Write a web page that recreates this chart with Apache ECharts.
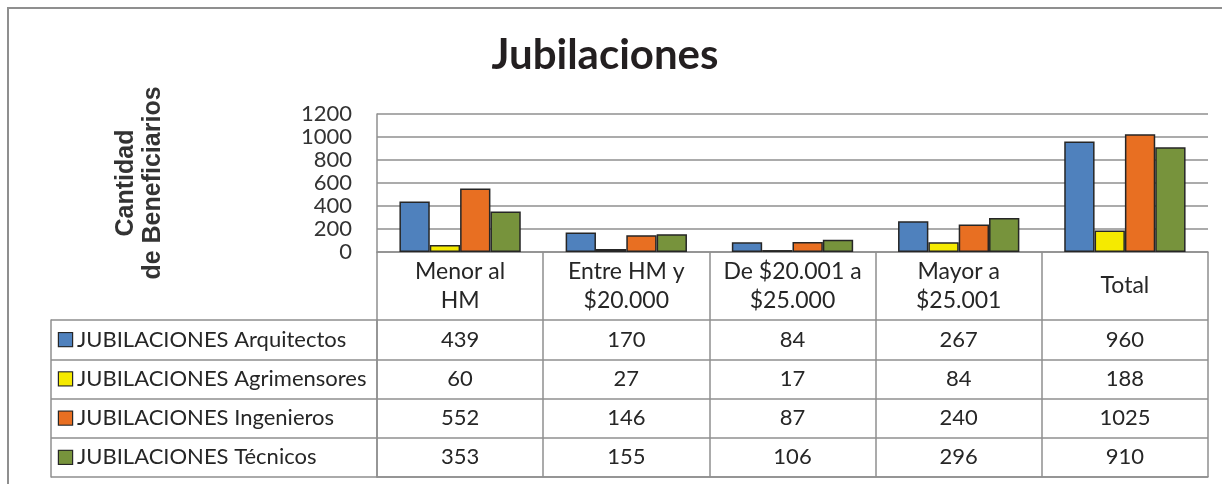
<!DOCTYPE html>
<html>
<head>
    <meta charset="utf-8">
    <title>Jubilaciones</title>
    <script src="https://cdn.jsdelivr.net/npm/echarts@6/dist/echarts.min.js"></script>
    <style>
        html, body { margin: 0; padding: 0; background: #fff; }
    </style>
</head>
<body>
<div id="main" style="width: 1222px;height:484px;"></div>
<script type="text/javascript">
    // datos
    var categorias = ['Menor al\nHM', 'Entre HM y\n$20.000', 'De $20.001 a\n$25.000', 'Mayor a\n$25.001', 'Total'];
    var nombres = ['JUBILACIONES Arquitectos', 'JUBILACIONES Agrimensores', 'JUBILACIONES Ingenieros', 'JUBILACIONES Técnicos'];
    var arquitectos = [439, 170, 84, 267, 960];
    var agrimensores = [60, 27, 17, 84, 188];
    var ingenieros = [552, 146, 87, 240, 1025];
    var tecnicos = [353, 155, 106, 296, 910];
    var yTicks = [0, 200, 400, 600, 800, 1000, 1200];
    var colores = ['#4f81bd', '#f5ea00', '#e86f22', '#77933c'];

    var valores = [arquitectos, agrimensores, ingenieros, tecnicos];
    var gris = '#8f8f8f';
    var texto = '#262626';
    var fuente = 'Lato';

    // celdas de la tabla: [columna, fila, valor]
    var celdas = [];
    valores.forEach(function (serie, fila) {
        serie.forEach(function (v, col) {
            celdas.push([col, fila, v]);
        });
    });

    var rich = {};
    colores.forEach(function (c, i) {
        rich['k' + i] = { width: 13, height: 13, backgroundColor: c, borderColor: '#262626', borderWidth: 1.2 };
    });
    rich.t = { fontFamily: fuente, fontSize: 22, color: texto, padding: [0, 0, 0, 5] };

    var myChart = echarts.init(document.getElementById('main'));

    var option = {
        animation: false,
        backgroundColor: '#fff',
        title: {
            text: 'Jubilaciones',
            left: 600,
            textAlign: 'center',
            top: 29,
            textStyle: { fontFamily: fuente, fontWeight: 'bold', fontSize: 42, color: '#231f20' }
        },
        graphic: [{
            type: 'rect',
            shape: { x: 8, y: 8, width: 1400, height: 700 },
            style: { fill: 'none', stroke: gris, lineWidth: 2 },
            silent: true
        }],
        grid: [
            { left: 377, right: 14, top: 114, height: 138 },
            { left: 377, right: 14, top: 320, height: 157 }
        ],
        xAxis: [{
            type: 'category',
            gridIndex: 0,
            data: categorias,
            axisLine: { show: true, lineStyle: { color: gris, width: 1.5 } },
            axisTick: { show: true, interval: 0, length: 68, lineStyle: { color: gris, width: 1.5 } },
            axisLabel: {
                interval: 0, margin: 34, verticalAlign: 'middle', lineHeight: 29,
                fontFamily: fuente, fontSize: 23, color: texto
            },
            splitLine: { show: false }
        }, {
            type: 'category',
            gridIndex: 1,
            data: categorias,
            axisLine: { show: true, lineStyle: { color: gris, width: 1.5 } },
            axisTick: { show: false },
            axisLabel: { show: false },
            splitLine: { show: true, interval: 0, lineStyle: { color: gris, width: 1.5 } }
        }],
        yAxis: [{
            type: 'value',
            gridIndex: 0,
            min: yTicks[0],
            max: yTicks[yTicks.length - 1],
            interval: 200,
            name: 'Cantidad\nde Beneficiarios',
            nameLocation: 'middle',
            nameRotate: 90,
            nameGap: 237,
            nameTextStyle: {
                fontFamily: 'Liberation Sans', fontWeight: 'bold', fontSize: 25,
                color: '#333', lineHeight: 27, align: 'center', verticalAlign: 'middle'
            },
            axisLine: { show: true, lineStyle: { color: gris, width: 1.5 } },
            axisTick: { show: false },
            axisLabel: {
                margin: 25, fontFamily: fuente, fontSize: 22, color: '#333',
                formatter: function (v) { return String(v); }
            },
            splitLine: { show: true, lineStyle: { color: gris, width: 1.5 } }
        }, {
            type: 'category',
            gridIndex: 1,
            inverse: true,
            data: nombres,
            axisLine: { show: true, lineStyle: { color: gris, width: 1.5 } },
            axisTick: { show: true, interval: 0, length: 326, lineStyle: { color: gris, width: 1.5 } },
            axisLabel: {
                interval: 0, margin: 318, align: 'left',
                formatter: function (v, i) { return '{k' + i + '|}{t|' + v + '}'; },
                rich: rich
            },
            splitLine: { show: true, interval: 0, lineStyle: { color: gris, width: 1.5 } }
        }, {
            type: 'category',
            gridIndex: 1,
            inverse: true,
            data: nombres,
            position: 'left',
            offset: 326,
            axisLine: { show: true, lineStyle: { color: gris, width: 1.5 } },
            axisTick: { show: false },
            axisLabel: { show: false },
            splitLine: { show: false }
        }],
        series: valores.map(function (serie, i) {
            return {
                name: nombres[i],
                type: 'bar',
                xAxisIndex: 0,
                yAxisIndex: 0,
                data: serie,
                barGap: '0%',
                barCategoryGap: '27%',
                itemStyle: { color: colores[i], borderColor: '#262626', borderWidth: 1.5 }
            };
        }).concat([{
            type: 'scatter',
            xAxisIndex: 1,
            yAxisIndex: 1,
            data: celdas,
            symbolSize: 1,
            itemStyle: { color: 'rgba(0,0,0,0)', opacity: 1 },
            label: {
                show: true,
                position: 'inside',
                formatter: function (p) { return p.value[2]; },
                fontFamily: fuente, fontSize: 22, color: texto, opacity: 1
            }
        }])
    };

    myChart.setOption(option);
</script>
</body>
</html>
